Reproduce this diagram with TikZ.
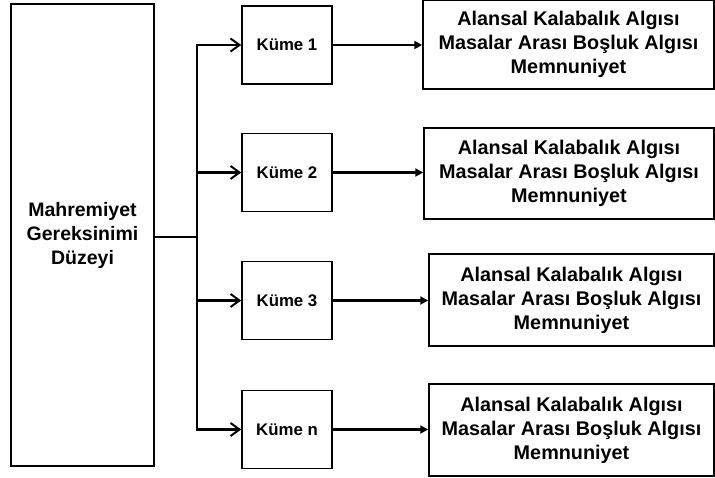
\documentclass[tikz,border=0pt]{standalone}
\usepackage{fontspec}
\setmainfont{Liberation Sans}
\usetikzlibrary{arrows.meta,positioning}

\begin{document}
\begin{tikzpicture}[
    x=1pt, y=-1pt,
    mainbox/.style={rectangle, draw, line width=1.5pt, align=center, inner sep=0pt, font=\bfseries\fontsize{19.5}{24}\selectfont},
    kume/.style={rectangle, draw, line width=1.5pt, minimum width=90pt, minimum height=78pt, inner sep=0pt, font=\bfseries\fontsize{16.8}{20}\selectfont},
    result/.style={rectangle, draw, line width=1.5pt, align=center, inner sep=0pt, font=\bfseries\fontsize{19.8}{24}\selectfont},
    branch/.style={-{Straight Barb[length=9pt, width=13pt, line width=2pt]}, line width=2.6pt},
    arrow/.style={-{Triangle[length=8pt, width=8pt]}, line width=2.4pt}
]
\useasboundingbox (0,0) rectangle (715,477);

% Source
\node[mainbox, minimum width=143pt, minimum height=462pt] (priv) at (82.5,235) {Mahremiyet\\Gereksinimi\\Düzeyi};
\coordinate (trunk) at (197,237);

% Clusters
\node[kume] (k1) at (287,45) {Küme 1};
\node[kume] (k2) at (287,172.5) {Küme 2};
\node[kume] (k3) at (287,300.5) {Küme 3};
\node[kume] (kn) at (287,429.5) {Küme n};

% Results
\node[result, minimum width=291pt, minimum height=89pt] (r1) at (568.5,44.5) {Alansal Kalabalık Algısı\\Masalar Arası Boşluk Algısı\\Memnuniyet};
\node[result, minimum width=290pt, minimum height=91pt] (r2) at (569,173.5) {Alansal Kalabalık Algısı\\Masalar Arası Boşluk Algısı\\Memnuniyet};
\node[result, minimum width=285pt, minimum height=92pt] (r3) at (571.5,300) {Alansal Kalabalık Algısı\\Masalar Arası Boşluk Algısı\\Memnuniyet};
\node[result, minimum width=285pt, minimum height=92pt] (r4) at (571.5,430) {Alansal Kalabalık Algısı\\Masalar Arası Boşluk Algısı\\Memnuniyet};

% Arrows
\draw[line width=2.6pt] (priv.east |- trunk) -- (trunk);
\draw[branch] (trunk) |- (k1.west);
\draw[branch] (trunk) |- (k2.west);
\draw[branch] (trunk) |- (k3.west);
\draw[branch] (trunk) |- (kn.west);
\draw[arrow] (k1.east) -- (k1.east -| r1.west);
\draw[arrow] (k2.east) -- (k2.east -| r2.west);
\draw[arrow] (k3.east) -- (k3.east -| r3.west);
\draw[arrow] (kn.east) -- (kn.east -| r4.west);
\end{tikzpicture}
\end{document}
